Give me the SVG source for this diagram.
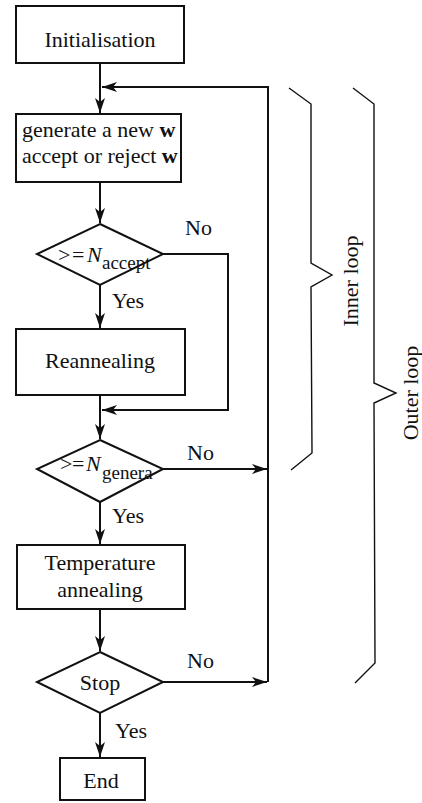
<svg xmlns="http://www.w3.org/2000/svg" width="422" height="803" viewBox="0 0 422 803">
<defs>
<style>
text{font-family:"Liberation Serif","Times New Roman",serif;font-size:22px;fill:#111}
.box{fill:#fff;stroke:#111;stroke-width:2}
.ln{fill:none;stroke:#111;stroke-width:2}
.br{fill:none;stroke:#111;stroke-width:1.4}
.c{text-anchor:middle}
.sub{font-size:19px}
</style>
<marker id="ah" markerUnits="userSpaceOnUse" markerWidth="16" markerHeight="12" refX="15" refY="6" orient="auto">
<path d="M0,1 L15,6 L0,11 L4,6 z" fill="#111"/>
</marker>
</defs>
<rect width="422" height="803" fill="#fff"/>
<g id="connectors">
<path class="ln" d="M100,63 L100,113" marker-end="url(#ah)"/>
<path class="ln" d="M268,682 L268,87 L102,87" marker-end="url(#ah)"/>
<path class="ln" d="M100,182 L100,223" marker-end="url(#ah)"/>
<path class="ln" d="M100,285 L100,328" marker-end="url(#ah)"/>
<path class="ln" d="M163,254 L228,254 L228,410 L102,410" marker-end="url(#ah)"/>
<path class="ln" d="M100,395 L100,439" marker-end="url(#ah)"/>
<path class="ln" d="M163,469 L267,469" marker-end="url(#ah)"/>
<path class="ln" d="M100,502 L100,544" marker-end="url(#ah)"/>
<path class="ln" d="M100,609 L100,651" marker-end="url(#ah)"/>
<path class="ln" d="M163,682 L267,682" marker-end="url(#ah)"/>
<path class="ln" d="M100,713 L100,757" marker-end="url(#ah)"/>
<text x="185" y="235">No</text>
<text x="112" y="308">Yes</text>
<text x="187" y="460">No</text>
<text x="112" y="523">Yes</text>
<text x="187" y="668">No</text>
<text x="115" y="738">Yes</text>
</g>
<g id="init">
<rect class="box" x="16" y="6" width="168" height="57"/>
<text class="c" x="100" y="47">Initialisation</text>
</g>
<g id="generate">
<rect class="box" x="16" y="114" width="165" height="68"/>
<text x="22" y="137">generate a new <tspan font-weight="bold">w</tspan></text>
<text x="22" y="163">accept or reject <tspan font-weight="bold">w</tspan></text>
</g>
<g id="check-accept">
<polygon class="box" points="100,224 163,254 100,285 37,254"/>
<text y="262"><tspan x="58">&gt;</tspan><tspan x="72">=</tspan><tspan x="87" font-style="italic">N</tspan><tspan x="102" y="269" class="sub">accept</tspan></text>
</g>
<g id="reannealing">
<rect class="box" x="16" y="329" width="169" height="66"/>
<text class="c" x="100" y="368">Reannealing</text>
</g>
<g id="check-genera">
<polygon class="box" points="100,440 163,469 100,502 37,469"/>
<text y="471"><tspan x="60">&gt;</tspan><tspan x="72">=</tspan><tspan x="86" font-style="italic">N</tspan><tspan x="102" y="479" class="sub">genera</tspan></text>
</g>
<g id="temperature">
<rect class="box" x="17" y="545" width="168" height="64"/>
<text class="c" x="100" y="570">Temperature</text>
<text class="c" x="100" y="597">annealing</text>
</g>
<g id="stop">
<polygon class="box" points="100,652 163,682 100,713 37,682"/>
<text class="c" x="100" y="690">Stop</text>
</g>
<g id="end">
<rect class="box" x="60" y="758" width="85" height="42"/>
<text class="c" x="101" y="788">End</text>
</g>
<g id="inner-loop">
<path class="br" d="M289,88 L311,104 L311,263 L332,275 L311,287 L312,453 L291,470"/>
<text class="c" transform="translate(358,281) rotate(-90)">Inner loop</text>
</g>
<g id="outer-loop">
<path class="br" d="M353,88 L374,104 L374,383 L396,393 L374,403 L375,663 L355,683"/>
<text class="c" transform="translate(418,393) rotate(-90)">Outer loop</text>
</g>
</svg>
